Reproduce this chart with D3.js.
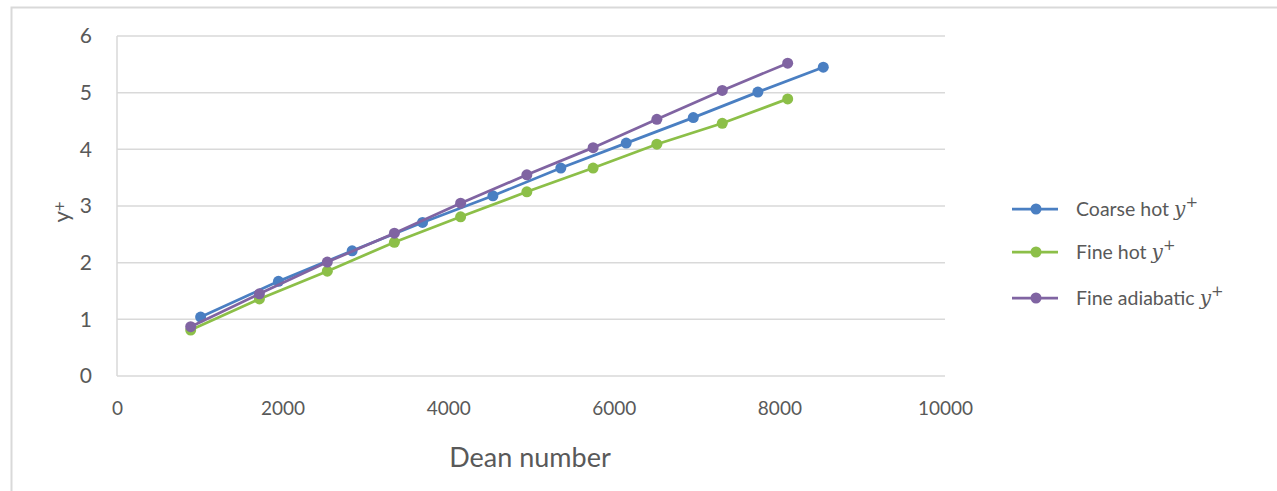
<!DOCTYPE html>
<html>
<head>
<meta charset="utf-8">
<script src="https://cdn.jsdelivr.net/npm/d3@7"></script>
<style>
  html, body { margin: 0; padding: 0; background: #fff; }
  svg text { font-family: Lato, "Open Sans", sans-serif; fill: #595959; }
</style>
</head>
<body>
<svg id="chart" width="1277" height="491"></svg>
<script>
// Dean number vs. wall y+ for three mesh / thermal cases
const coarseHotDean = [1010, 1950, 2840, 3690, 4540, 5360, 6150, 6960, 7740, 8530];
const coarseHotY    = [1.04, 1.67, 2.21, 2.71, 3.18, 3.67, 4.11, 4.56, 5.01, 5.45];
const fineDean      = [890, 1720, 2540, 3350, 4150, 4950, 5750, 6520, 7310, 8100];
const fineHotY      = [0.81, 1.36, 1.85, 2.36, 2.81, 3.25, 3.67, 4.09, 4.46, 4.89];
const fineAdiaY     = [0.87, 1.45, 2.01, 2.52, 3.05, 3.55, 4.03, 4.53, 5.04, 5.52];

const seriesNames  = ["Coarse hot ", "Fine hot ", "Fine adiabatic "];
const seriesColors = ["#4a7fc2", "#8cbf48", "#8064a2"];
const xTicks = [0, 2000, 4000, 6000, 8000, 10000];
const yTicks = [0, 1, 2, 3, 4, 5, 6];

const series = [
  { name: seriesNames[0], color: seriesColors[0], pts: coarseHotDean.map((d, i) => [d, coarseHotY[i]]) },
  { name: seriesNames[1], color: seriesColors[1], pts: fineDean.map((d, i) => [d, fineHotY[i]]) },
  { name: seriesNames[2], color: seriesColors[2], pts: fineDean.map((d, i) => [d, fineAdiaY[i]]) }
];

const svg = d3.select("#chart");

// outer chart frame
svg.append("path")
  .attr("d", "M11.5,492 V7.5 H1280")
  .attr("fill", "none").attr("stroke", "#d9d9d9").attr("stroke-width", 2);

const x = d3.scaleLinear().domain([0, 10000]).range([117, 945]);
const y = d3.scaleLinear().domain([0, 6]).range([376, 36]);

// horizontal gridlines
svg.append("g").selectAll("line").data(yTicks).join("line")
  .attr("x1", x(0)).attr("x2", x(10000))
  .attr("y1", d => y(d)).attr("y2", d => y(d))
  .attr("stroke", "#d9d9d9").attr("stroke-width", 1.5);

// vertical axis line
svg.append("line")
  .attr("x1", x(0)).attr("x2", x(0)).attr("y1", y(0)).attr("y2", y(6))
  .attr("stroke", "#d9d9d9").attr("stroke-width", 1.5);

// axes (labels only)
const yAxis = d3.axisLeft(y).tickValues(yTicks).tickSize(0).tickPadding(25).tickFormat(d3.format("d"));
const gy = svg.append("g").attr("transform", `translate(${x(0)},0)`).call(yAxis);
gy.select(".domain").remove();
gy.selectAll("text").style("font-size", "21px").attr("fill", "#595959");

const xAxis = d3.axisBottom(x).tickValues(xTicks).tickSize(0).tickPadding(26).tickFormat(d3.format("d"));
const gx = svg.append("g").attr("transform", `translate(0,${y(0)})`).call(xAxis);
gx.select(".domain").remove();
gx.selectAll("text").style("font-size", "19px").attr("fill", "#595959");

// axis titles
svg.append("text")
  .attr("x", 530).attr("y", 467)
  .attr("text-anchor", "middle")
  .style("font-size", "27px")
  .text("Dean number");

const yt = svg.append("text")
  .attr("transform", "translate(69,212) rotate(-90)")
  .attr("text-anchor", "middle")
  .style("font-size", "22px");
yt.append("tspan").text("y");
yt.append("tspan").attr("dy", -3).style("font-size", "17px").text("+");

// series lines and markers
const line = d3.line().x(d => x(d[0])).y(d => y(d[1]));
const gs = svg.append("g").selectAll("g").data(series).join("g");
gs.append("path")
  .attr("d", d => line(d.pts))
  .attr("fill", "none")
  .attr("stroke", d => d.color)
  .attr("stroke-width", 2.75);
gs.each(function (s) {
  d3.select(this).selectAll("circle").data(s.pts).join("circle")
    .attr("cx", d => x(d[0])).attr("cy", d => y(d[1]))
    .attr("r", 5.5).attr("fill", s.color);
});

// legend
const legendY = [209, 252, 298];
const lg = svg.append("g").selectAll("g").data(series).join("g")
  .attr("transform", (d, i) => `translate(1012,${legendY[i]})`);
lg.append("line").attr("x1", 0).attr("x2", 46)
  .attr("stroke", d => d.color).attr("stroke-width", 2.75);
lg.append("circle").attr("cx", 24).attr("r", 5.5).attr("fill", d => d.color);
const lt = lg.append("text").attr("x", 64).attr("y", 7).style("font-size", "19.5px");
lt.append("tspan").text(d => d.name);
lt.append("tspan")
  .style("font-family", "'DejaVu Serif', serif").style("font-style", "italic")
  .style("font-size", "20px").text("y");
lt.append("tspan").attr("dy", -9)
  .style("font-family", "'DejaVu Serif', serif")
  .style("font-size", "15px").text("+");
</script>
</body>
</html>
